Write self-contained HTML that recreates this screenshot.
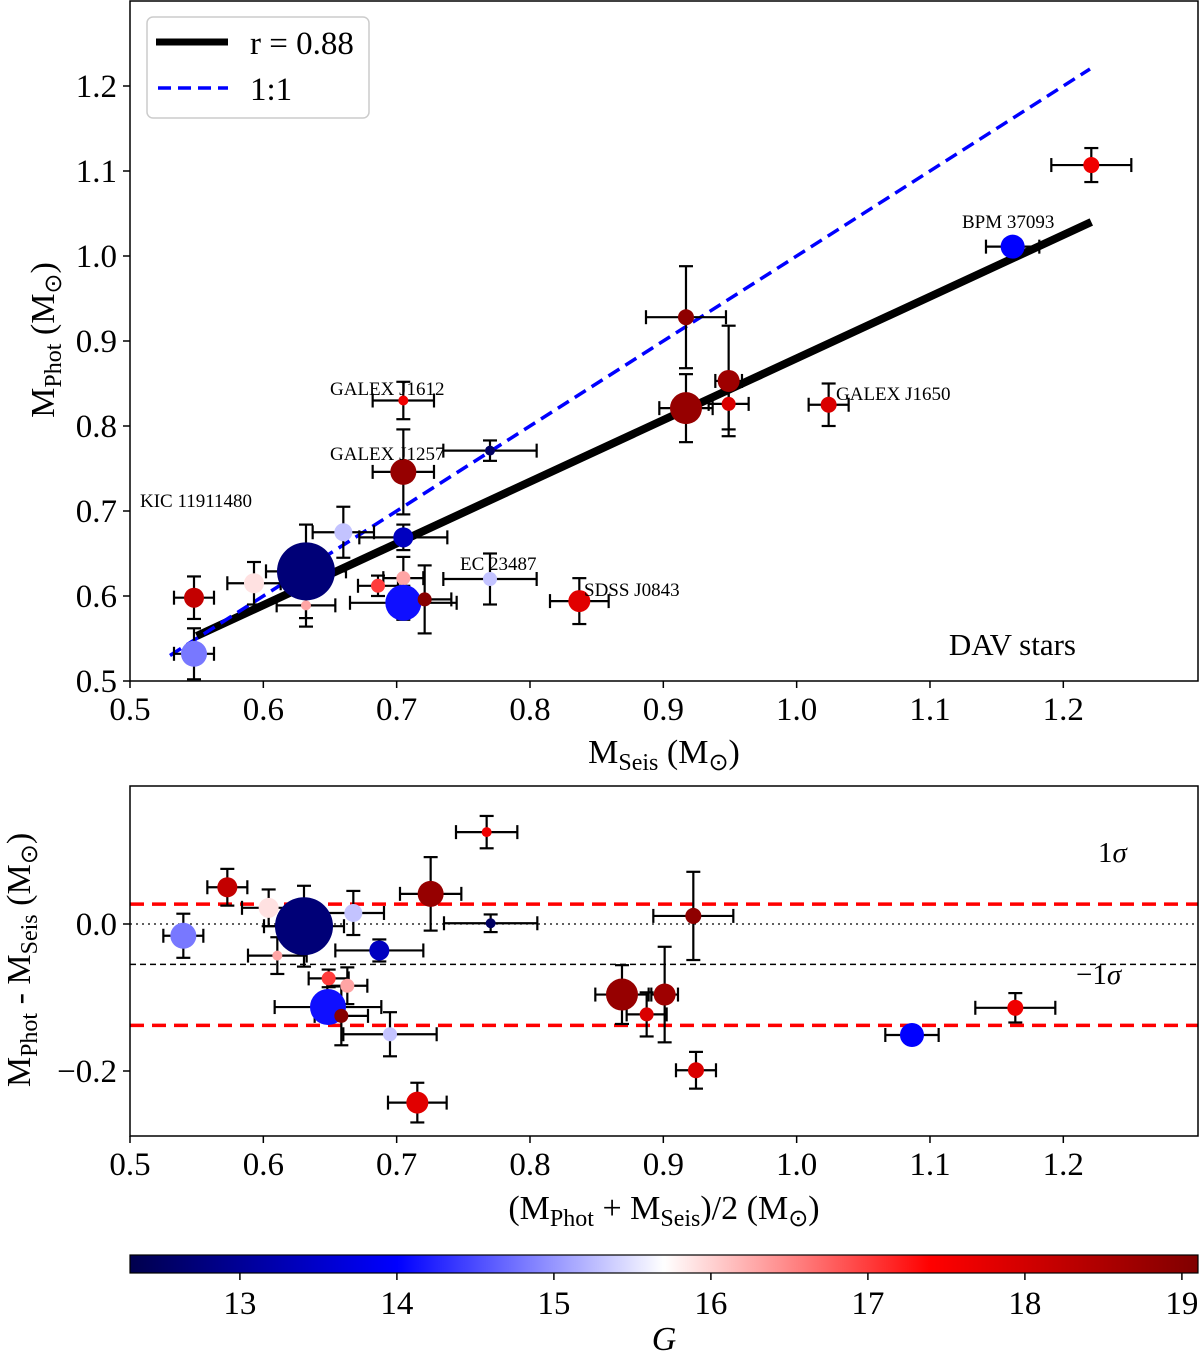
<!DOCTYPE html>
<html><head><meta charset="utf-8"><style>
body{margin:0;background:#fff}
svg{display:block;font-family:"Liberation Serif",serif}
</style></head><body>
<svg id="chart" width="1200" height="1354" viewBox="0 0 1200 1354" xmlns="http://www.w3.org/2000/svg">
<defs>
<linearGradient id="seis" x1="0" x2="1" y1="0" y2="0">
<stop offset="0" stop-color="#00004d"/><stop offset="0.25" stop-color="#0000ff"/><stop offset="0.5" stop-color="#ffffff"/><stop offset="0.75" stop-color="#ff0000"/><stop offset="1" stop-color="#800000"/>
</linearGradient>
</defs>
<g id="topPanel"></g>
<g id="botPanel"></g>
<g id="cbar"></g>
</svg>
<script>
// data: seismic mass, photometric mass, errors, G magnitude, marker radius
const mSeis = [0.705,0.705,0.770,0.660,0.705,0.632,0.593,0.548,0.548,0.632,0.686,0.705,0.705,0.721,0.770,0.837,0.917,0.917,0.949,0.949,1.024,1.162,1.221];
const mPhot = [0.830,0.746,0.771,0.675,0.669,0.629,0.615,0.598,0.532,0.589,0.612,0.621,0.592,0.596,0.620,0.594,0.928,0.821,0.853,0.826,0.825,1.011,1.107];
const xErr  = [0.023,0.023,0.035,0.023,0.033,0.03,0.02,0.015,0.015,0.022,0.015,0.015,0.04,0.02,0.035,0.022,0.03,0.02,0.01,0.015,0.015,0.02,0.03];
const yErr  = [0.022,0.05,0.012,0.03,0.015,0.055,0.025,0.025,0.03,0.025,0.012,0.025,0.02,0.04,0.03,0.027,0.06,0.04,0.065,0.03,0.025,0.008,0.02];
const gMag  = [17.6,18.8,12.5,15.3,13.4,12.7,15.9,18.2,14.8,16.3,17.0,16.3,14.1,19.0,15.3,17.8,18.9,18.8,18.7,17.9,17.9,14.0,17.6];
const rad   = [5,13,5,9,10,29,10,10,13,5,7,7,18,7,7,11,8,16,11,7,8,12,8];
const xTicks = [0.5,0.6,0.7,0.8,0.9,1.0,1.1,1.2];
const yTicksTop = [0.5,0.6,0.7,0.8,0.9,1.0,1.1,1.2];
const yTicksBot = [-0.2,0.0];
const gTicks = [13,14,15,16,17,18,19];
const fitLine = [[0.55,0.553],[1.221,1.040]];
const oneToOne = [0.53,1.22];
const sigLines = [0.027,-0.138];
const meanLine = -0.055;

const NS="http://www.w3.org/2000/svg";
function mk(parent,tag,attrs,text){const e=document.createElementNS(NS,tag);for(const k in attrs)e.setAttribute(k,attrs[k]);if(text!==undefined)e.textContent=text;parent.appendChild(e);return e;}
const X=v=>130+(v-0.5)*1333.3;
const YT=v=>681-(v-0.5)*850;
const YB=v=>924-v*735;
const GX=g=>130+(g-12.30)*157;
function cmap(g){let t=(g-12.30)/(19.10-12.30);t=Math.max(0,Math.min(1,t));
 const st=[[0,0,0,77],[0.25,0,0,255],[0.5,255,255,255],[0.75,255,0,0],[1,128,0,0]];
 for(let i=0;i<4;i++){const a=st[i],b=st[i+1];if(t<=b[0]){const f=(t-a[0])/(b[0]-a[0]);return `rgb(${Math.round(a[1]+f*(b[1]-a[1]))},${Math.round(a[2]+f*(b[2]-a[2]))},${Math.round(a[3]+f*(b[3]-a[3]))})`;}}return "rgb(128,0,0)";}

function errbar(g,cx,cy,dx,dy,i){
 const e=mk(g,'g',{stroke:'#000','stroke-width':2.2,fill:'none'});
 
 
 mk(e,'line',{x1:cx-dx,y1:cy,x2:cx+dx,y2:cy});
 mk(e,'line',{x1:cx,y1:cy-dy,x2:cx,y2:cy+dy});
 mk(e,'line',{x1:cx-dx,y1:cy-7,x2:cx-dx,y2:cy+7});
 mk(e,'line',{x1:cx+dx,y1:cy-7,x2:cx+dx,y2:cy+7});
 mk(e,'line',{x1:cx-7,y1:cy-dy,x2:cx+7,y2:cy-dy});
 mk(e,'line',{x1:cx-7,y1:cy+dy,x2:cx+7,y2:cy+dy});
}
function ticksX(g,y0){xTicks.forEach(t=>{mk(g,'line',{x1:X(t),y1:y0,x2:X(t),y2:y0+7,stroke:'#000','stroke-width':1.5});
 const l=mk(g,'text',{x:X(t),y:y0+39,'font-size':33,'text-anchor':'middle'},t.toFixed(1));
 
 });}

// ---- top panel
const topG=document.getElementById('topPanel');


const fl=mk(topG,'line',{x1:X(fitLine[0][0]),y1:YT(fitLine[0][1]),x2:X(fitLine[1][0]),y2:YT(fitLine[1][1]),stroke:'#000','stroke-width':8});


const ol=mk(topG,'line',{x1:X(oneToOne[0]),y1:YT(oneToOne[0]),x2:X(oneToOne[1]),y2:YT(oneToOne[1]),stroke:'#0000ff','stroke-width':3.5,'stroke-dasharray':'13 7'});


mSeis.forEach((x,i)=>errbar(topG,X(x),YT(mPhot[i]),xErr[i]*1333.3,yErr[i]*850,i));
mSeis.forEach((x,i)=>{const c=mk(topG,'circle',{cx:X(x),cy:YT(mPhot[i]),r:rad[i],fill:cmap(gMag[i])});
 
 });
[['GALEX J1612',330,395],['GALEX J1257',330,460],['KIC 11911480',140,507],['EC 23487',460,570],['SDSS J0843',584,596],['GALEX J1650',836,400],['BPM 37093',962,228]].forEach(a=>{
 const t=mk(topG,'text',{x:a[1],y:a[2],'font-size':19},a[0]);
 
 });
const dav=mk(topG,'text',{x:1076,y:655,'font-size':31,'text-anchor':'end'},'DAV stars');


const fr1=mk(topG,'rect',{x:130,y:1,width:1068,height:680,fill:'none',stroke:'#000','stroke-width':1.5});


ticksX(topG,681);
yTicksTop.forEach(t=>{mk(topG,'line',{x1:123,y1:YT(t),x2:130,y2:YT(t),stroke:'#000','stroke-width':1.5});
 const l=mk(topG,'text',{x:117,y:YT(t)+11,'font-size':33,'text-anchor':'end'},t.toFixed(1));
 
 });
const xt=mk(topG,'text',{x:664,y:763,'font-size':34,'text-anchor':'middle'});


xt.innerHTML='M<tspan font-size="24" dy="7">Seis</tspan><tspan dy="-7"> (M</tspan><tspan font-size="24" dy="7">⊙</tspan><tspan dy="-7">)</tspan>';
const yt=mk(topG,'text',{x:0,y:0,'font-size':34,'text-anchor':'middle',transform:'translate(54,340) rotate(-90)'});


yt.innerHTML='M<tspan font-size="24" dy="7">Phot</tspan><tspan dy="-7"> (M</tspan><tspan font-size="24" dy="7">⊙</tspan><tspan dy="-7">)</tspan>';
// legend
const lg=mk(topG,'g',{});


mk(lg,'rect',{x:147,y:17,width:222,height:101,rx:6,fill:'#fff',stroke:'#ccc','stroke-width':1.5});
mk(lg,'line',{x1:156,y1:42,x2:228,y2:42,stroke:'#000','stroke-width':7});
mk(lg,'text',{x:250,y:54,'font-size':33},'r = 0.88');
mk(lg,'line',{x1:158,y1:88,x2:228,y2:88,stroke:'#0000ff','stroke-width':3.5,'stroke-dasharray':'13 7'});
mk(lg,'text',{x:250,y:100,'font-size':33},'1:1');

// ---- bottom panel
const botG=document.getElementById('botPanel');


const zl=mk(botG,'line',{x1:130,y1:YB(0),x2:1198,y2:YB(0),stroke:'#000','stroke-width':1.3,'stroke-dasharray':'2 4'});


const ml=mk(botG,'line',{x1:130,y1:YB(meanLine),x2:1198,y2:YB(meanLine),stroke:'#000','stroke-width':1.5,'stroke-dasharray':'6 4'});


sigLines.forEach(s=>{const l=mk(botG,'line',{x1:130,y1:YB(s),x2:1198,y2:YB(s),stroke:'#ff0000','stroke-width':3.5,'stroke-dasharray':'14 8'});
 
 });
mSeis.forEach((x,i)=>{const m=(x+mPhot[i])/2,d=mPhot[i]-x;errbar(botG,X(m),YB(d),xErr[i]*1333.3,yErr[i]*735,i);});
mSeis.forEach((x,i)=>{const m=(x+mPhot[i])/2,d=mPhot[i]-x;const c=mk(botG,'circle',{cx:X(m),cy:YB(d),r:rad[i],fill:cmap(gMag[i])});
 
 });
const s1=mk(botG,'text',{x:1098,y:862,'font-size':29});
s1.innerHTML='1<tspan font-style="italic">σ</tspan>';


const s2=mk(botG,'text',{x:1076,y:984,'font-size':29});
s2.innerHTML='−1<tspan font-style="italic">σ</tspan>';


const fr2=mk(botG,'rect',{x:130,y:786,width:1068,height:350,fill:'none',stroke:'#000','stroke-width':1.5});


ticksX(botG,1136);
yTicksBot.forEach(t=>{mk(botG,'line',{x1:123,y1:YB(t),x2:130,y2:YB(t),stroke:'#000','stroke-width':1.5});
 const l=mk(botG,'text',{x:117,y:YB(t)+11,'font-size':33,'text-anchor':'end'},(t<0?'−':'')+Math.abs(t).toFixed(1));
 
 });
const xb=mk(botG,'text',{x:664,y:1219,'font-size':34,'text-anchor':'middle'});


xb.innerHTML='(M<tspan font-size="24" dy="7">Phot</tspan><tspan dy="-7"> + M</tspan><tspan font-size="24" dy="7">Seis</tspan><tspan dy="-7">)/2 (M</tspan><tspan font-size="24" dy="7">⊙</tspan><tspan dy="-7">)</tspan>';
const yb=mk(botG,'text',{x:0,y:0,'font-size':34,'text-anchor':'middle',transform:'translate(30,960) rotate(-90)'});


yb.innerHTML='M<tspan font-size="24" dy="7">Phot</tspan><tspan dy="-7"> - M</tspan><tspan font-size="24" dy="7">Seis</tspan><tspan dy="-7"> (M</tspan><tspan font-size="24" dy="7">⊙</tspan><tspan dy="-7">)</tspan>';

// ---- colorbar
const cb=document.getElementById('cbar');


mk(cb,'rect',{x:130,y:1255,width:1068,height:18,fill:'url(#seis)',stroke:'#000','stroke-width':1.2});
gTicks.forEach(g=>{mk(cb,'line',{x1:GX(g),y1:1273,x2:GX(g),y2:1280,stroke:'#000','stroke-width':1.5});
 const l=mk(cb,'text',{x:GX(g),y:1314,'font-size':33,'text-anchor':'middle'},String(g));
 
 });
const gl=mk(cb,'text',{x:664,y:1350,'font-size':34,'font-style':'italic','text-anchor':'middle'},'G');


</script>
</body></html>
